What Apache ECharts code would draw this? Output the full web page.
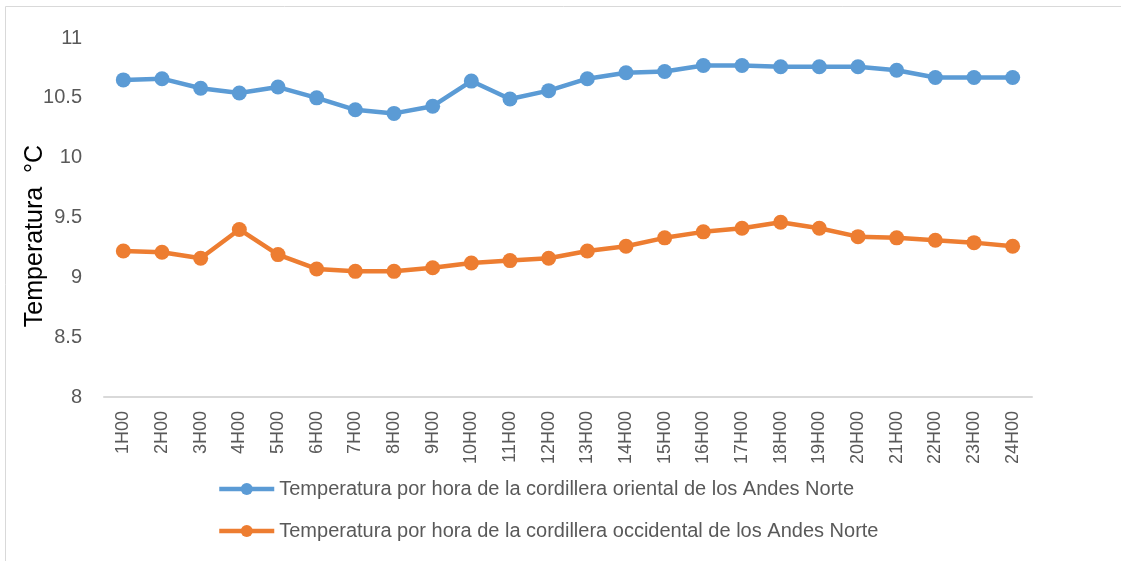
<!DOCTYPE html>
<html>
<head>
<meta charset="utf-8">
<script src="https://cdn.jsdelivr.net/npm/echarts@6/dist/echarts.min.js"></script>
<style>
  html, body { margin: 0; padding: 0; background: #fff; }
  #chart { width: 1121px; height: 561px; }
</style>
</head>
<body>
<div id="chart"></div>
<script>
// horas del día
var horas = ['1H00','2H00','3H00','4H00','5H00','6H00','7H00','8H00','9H00','10H00','11H00','12H00',
             '13H00','14H00','15H00','16H00','17H00','18H00','19H00','20H00','21H00','22H00','23H00','24H00'];
// cordillera oriental
var oriental = [10.65,10.66,10.58,10.54,10.59,10.50,10.40,10.37,10.43,10.64,10.49,10.56,
                10.66,10.71,10.72,10.77,10.77,10.76,10.76,10.76,10.73,10.67,10.67,10.67];
// cordillera occidental
var occidental = [9.22,9.21,9.16,9.40,9.19,9.07,9.05,9.05,9.08,9.12,9.14,9.16,
                  9.22,9.26,9.33,9.38,9.41,9.46,9.41,9.34,9.33,9.31,9.29,9.26];

var nombreOri = 'Temperatura por hora de la cordillera oriental de los Andes Norte';
var nombreOcc = 'Temperatura por hora de la cordillera occidental de los Andes Norte';

var myChart = echarts.init(document.getElementById('chart'));
myChart.setOption({
    animation: false,
    textStyle: { fontFamily: 'Liberation Sans' },
    graphic: [
        {
            type: 'rect',
            shape: { x: 5.5, y: 6.5, width: 1200, height: 600 },
            style: { fill: 'none', stroke: '#d9d9d9', lineWidth: 1 }
        },
        {
            // título del eje y
            type: 'text',
            x: 35,
            y: 236,
            rotation: Math.PI / 2,
            style: {
                text: 'Temperatura  °C',
                fontSize: 25,
                fontFamily: 'Liberation Sans',
                fill: '#000',
                align: 'center',
                verticalAlign: 'middle'
            }
        }
    ],
    grid: { left: 104, right: 89, top: 38, bottom: 164 },
    legend: {
        orient: 'vertical',
        left: 212,
        top: 474,
        itemWidth: 55,
        itemHeight: 15,
        itemGap: 22,
        lineStyle: { width: 4.5 },
        textStyle: { fontSize: 20, color: '#595959' },
        data: [nombreOri, nombreOcc]
    },
    xAxis: {
        type: 'category',
        data: horas,
        boundaryGap: true,
        axisLine: { lineStyle: { color: '#d9d9d9', width: 2 } },
        axisTick: { show: false },
        axisLabel: { rotate: 90, fontSize: 18, color: '#595959', margin: 14, interval: 0 }
    },
    yAxis: {
        type: 'value',
        min: 8,
        max: 11,
        interval: 0.5,
        axisLine: { show: false },
        axisTick: { show: false },
        splitLine: { show: false },
        axisLabel: { fontSize: 20, color: '#595959', margin: 22 }
    },
    series: [
        {
            name: nombreOri,
            type: 'line',
            data: oriental,
            color: '#5B9BD5',
            symbol: 'circle',
            symbolSize: 15,
            lineStyle: { width: 4.5 }
        },
        {
            name: nombreOcc,
            type: 'line',
            data: occidental,
            color: '#ED7D31',
            symbol: 'circle',
            symbolSize: 15,
            lineStyle: { width: 4.5 }
        }
    ]
});
</script>
</body>
</html>
